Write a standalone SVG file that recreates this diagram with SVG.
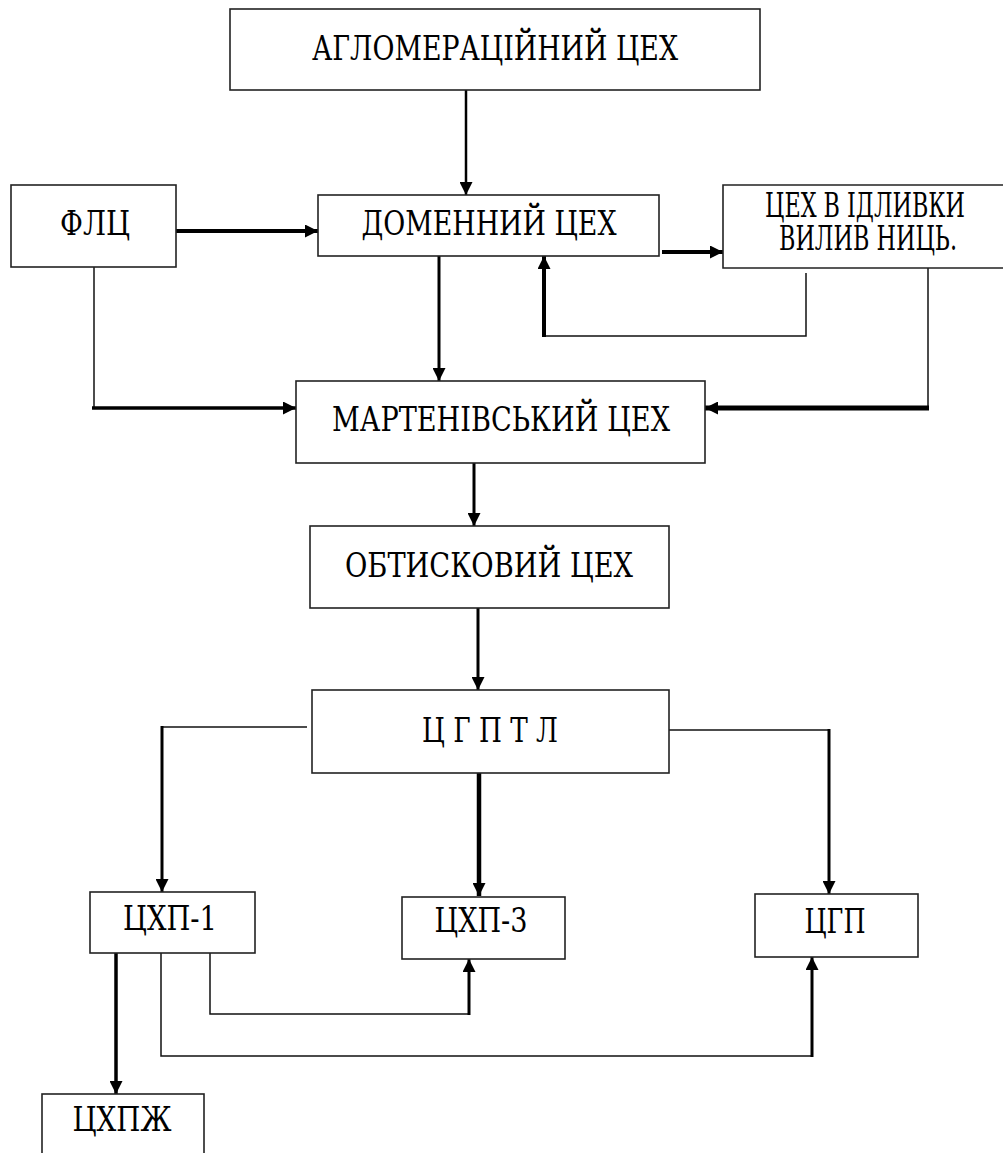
<svg xmlns="http://www.w3.org/2000/svg" width="1003" height="1153" viewBox="0 0 1003 1153">
<style>
.box{fill:#fff;stroke:#222;stroke-width:1.6}
.t{font-family:"DejaVu Serif","Liberation Serif",serif;font-size:34px;fill:#000;text-anchor:middle}
.thin{fill:none;stroke:#111;stroke-width:1.5}
.thk{fill:none;stroke:#000;stroke-width:3.2}
</style>
<defs>
<marker id="ah" markerUnits="userSpaceOnUse" markerWidth="13" markerHeight="13" refX="13" refY="6.5" orient="auto">
<path d="M0,0 L13,6.5 L0,13 Z" fill="#000"/>
</marker>
</defs>
<rect x="0" y="0" width="1003" height="1153" fill="#fff"/>
<g id="connectors">
<path class="thk" d="M466,90 V195" style="stroke-width:2.5" marker-end="url(#ah)"/>
<path class="thk" d="M176,231 H318" style="stroke-width:4" marker-end="url(#ah)"/>
<path class="thk" d="M662,252 H723" style="stroke-width:4" marker-end="url(#ah)"/>
<path class="thin" d="M806,273 V336 H544"/>
<path class="thk" d="M544,337 V256" style="stroke-width:4" marker-end="url(#ah)"/>
<path class="thk" d="M439,256 V381" style="stroke-width:3" marker-end="url(#ah)"/>
<path class="thin" d="M94,267 V408"/>
<path class="thk" d="M92,408 H296" style="stroke-width:3.5" marker-end="url(#ah)"/>
<path class="thin" d="M928,268 V408"/>
<path class="thk" d="M929,408 H705" style="stroke-width:5" marker-end="url(#ah)"/>
<path class="thk" d="M474,463 V526" style="stroke-width:3" marker-end="url(#ah)"/>
<path class="thk" d="M478,608 V690" style="stroke-width:3" marker-end="url(#ah)"/>
<path class="thin" d="M307,727 H162"/>
<path class="thk" d="M162,726 V892" style="stroke-width:3" marker-end="url(#ah)"/>
<path class="thk" d="M479,773 V896" style="stroke-width:4.5" marker-end="url(#ah)"/>
<path class="thin" d="M669,730 H829"/>
<path class="thk" d="M829,729 V894" style="stroke-width:3" marker-end="url(#ah)"/>
<path class="thk" d="M116,953 V1094" style="stroke-width:3.5" marker-end="url(#ah)"/>
<path class="thin" d="M161,953 V1056 H812"/>
<path class="thk" d="M812,1057 V957" style="stroke-width:3" marker-end="url(#ah)"/>
<path class="thin" d="M210,953 V1014 H469"/>
<path class="thk" d="M469,1015 V959" style="stroke-width:3" marker-end="url(#ah)"/>
</g>
<g id="agl"><rect class="box" x="230" y="9" width="530" height="81"/><text class="t" x="495" y="60" font-size="31" textLength="366" lengthAdjust="spacingAndGlyphs">АГЛОМЕРАЦІЙНИЙ ЦЕХ</text></g>
<g id="flc"><rect class="box" x="11" y="185" width="165" height="82"/><text class="t" x="95" y="235" font-size="28" textLength="70" lengthAdjust="spacingAndGlyphs">ФЛЦ</text></g>
<g id="dom"><rect class="box" x="318" y="195" width="341" height="61"/><text class="t" x="489" y="235" font-size="31" textLength="255" lengthAdjust="spacingAndGlyphs">ДОМЕННИЙ ЦЕХ</text></g>
<g id="vid"><path class="box" d="M1003,185 H723 V268 H1003"/><text class="t" x="865" y="217" font-size="23" textLength="200" lengthAdjust="spacingAndGlyphs">ЦЕХ В ІДЛИВКИ</text><text class="t" x="868" y="250" font-size="23" textLength="178" lengthAdjust="spacingAndGlyphs">ВИЛИВ НИЦЬ.</text></g>
<g id="mart"><rect class="box" x="296" y="381" width="409" height="82"/><text class="t" x="501" y="431" font-size="31" textLength="338" lengthAdjust="spacingAndGlyphs">МАРТЕНІВСЬКИЙ ЦЕХ</text></g>
<g id="obt"><rect class="box" x="310" y="526" width="359" height="82"/><text class="t" x="489" y="577" font-size="30" textLength="288" lengthAdjust="spacingAndGlyphs">ОБТИСКОВИЙ ЦЕХ</text></g>
<g id="cgptl"><rect class="box" x="312" y="690" width="357" height="83"/><text class="t" x="490" y="742" font-size="30" textLength="136" lengthAdjust="spacingAndGlyphs">Ц Г П Т Л</text></g>
<g id="chp1"><rect class="box" x="90" y="892" width="165" height="61"/><text class="t" x="170" y="930" font-size="30" textLength="94" lengthAdjust="spacingAndGlyphs">ЦХП-1</text></g>
<g id="chp3"><rect class="box" x="402" y="897" width="163" height="62"/><text class="t" x="481" y="932" font-size="30" textLength="93" lengthAdjust="spacingAndGlyphs">ЦХП-3</text></g>
<g id="cgp"><rect class="box" x="755" y="894" width="163" height="63"/><text class="t" x="835" y="933" font-size="30" textLength="61" lengthAdjust="spacingAndGlyphs">ЦГП</text></g>
<g id="chpzh"><rect class="box" x="42" y="1094" width="162" height="70"/><text class="t" x="122" y="1131" font-size="30" textLength="99" lengthAdjust="spacingAndGlyphs">ЦХПЖ</text></g>
</svg>
